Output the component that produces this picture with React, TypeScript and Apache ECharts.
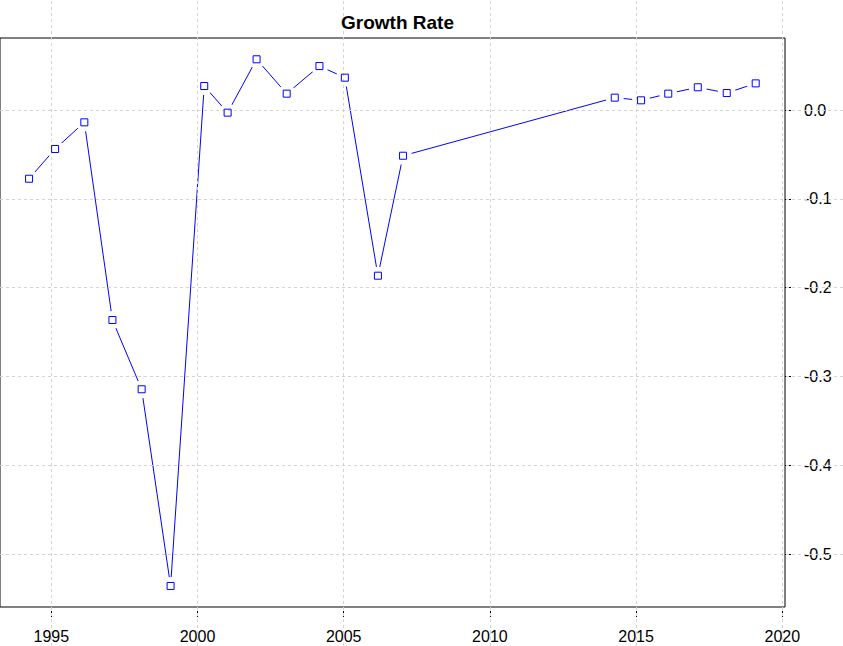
import { useEffect, useRef } from "react";
import * as echarts from "echarts";

// ─── Data ─────────────────────────────────────────────────────────
const YEARS = [
  1994.24, 1995.13, 1996.13, 1997.09, 1998.09, 1999.08, 2000.23, 2001.03, 2002.02, 2003.05,
  2004.17, 2005.04, 2006.17, 2007.03, 2014.27, 2015.17, 2016.1, 2017.11, 2018.1, 2019.09,
];
const GROWTH = [
  -0.0774, -0.0439, -0.0139, -0.2365, -0.3145, -0.536, 0.027, -0.003, 0.0571, 0.0184,
  0.0495, 0.0364, -0.1866, -0.0515, 0.0139, 0.0109, 0.0184, 0.0256, 0.0191, 0.03,
];
const X_TICKS = [1995, 2000, 2005, 2010, 2015, 2020];
const Y_TICKS = [0, -0.1, -0.2, -0.3, -0.4, -0.5];

// ─── Look ─────────────────────────────────────────────────────────
const FONT = '"Liberation Sans", Arial, sans-serif';
const BLUE = "#0000ff";
const GRID_GREY = "#d3d3d3";
const MASK = "#fefefe";
const W = 843;
const H = 646;
const BOX = { left: 0, top: 38, right: 785, bottom: 607 };

// pixel calibration: where 1995 and 0.0 sit, and the scale of each axis
const PX_1995 = 51.3;
const PX_PER_YEAR = 29.24;
const PY_ZERO = 110;
const PY_PER_UNIT = 888;
const yearAt = (px: number) => 1995 + (px - PX_1995) / PX_PER_YEAR;
const valueAt = (py: number) => (PY_ZERO - py) / PY_PER_UNIT;

const tickStyle = { color: "#000", width: 1, type: [2, 2] };
const labelStyle = { fontSize: 16, color: "#000", fontFamily: FONT };

export default function App() {
  const ref = useRef<HTMLDivElement>(null);

  useEffect(() => {
    if (!ref.current) return;
    const chart = echarts.init(ref.current, undefined, { renderer: "svg" });
    const points = YEARS.map((y, i) => [y, GROWTH[i]]);

    chart.setOption({
      animation: false,
      backgroundColor: "#fff",
      title: {
        text: "Growth Rate",
        left: (BOX.left + BOX.right) / 2,
        top: 8,
        textAlign: "center",
        textStyle: { fontSize: 19, fontWeight: "bold", color: "#000", fontFamily: FONT },
      },
      grid: [
        {
          left: BOX.left,
          top: BOX.top,
          width: BOX.right - BOX.left,
          height: BOX.bottom - BOX.top,
          show: true,
          borderColor: "#000",
          borderWidth: 1,
          backgroundColor: "transparent",
        },
        // whole page: the dotted grid runs past the box, as in the reference
        { left: 0, top: 0, width: W, height: H, show: false },
      ],
      xAxis: [
        {
          gridIndex: 0,
          type: "value",
          min: yearAt(BOX.left),
          max: yearAt(BOX.right),
          axisLine: { show: false, onZero: false },
          splitLine: { show: false },
          axisTick: { show: true, customValues: X_TICKS, length: 12, lineStyle: tickStyle },
          axisLabel: {
            ...labelStyle,
            customValues: X_TICKS,
            margin: 21,
            formatter: (v: number) => String(v),
          },
        },
        { gridIndex: 1, type: "value", min: yearAt(0), max: yearAt(W), show: false },
      ],
      yAxis: [
        {
          gridIndex: 0,
          type: "value",
          position: "right",
          min: valueAt(BOX.bottom),
          max: valueAt(BOX.top),
          axisLine: { show: false, onZero: false },
          splitLine: { show: false },
          axisTick: { show: true, customValues: Y_TICKS, length: 9, lineStyle: tickStyle },
          axisLabel: {
            ...labelStyle,
            customValues: Y_TICKS,
            margin: 19,
            formatter: (v: number) => v.toFixed(1),
          },
        },
        { gridIndex: 1, type: "value", min: valueAt(H), max: valueAt(0), show: false },
      ],
      series: [
        {
          type: "line",
          data: points,
          showSymbol: false,
          lineStyle: { color: BLUE, width: 1 },
        },
        {
          // pale disc that opens the gap round each point (R type = "b")
          type: "line",
          data: points,
          showSymbol: true,
          symbol: "circle",
          symbolSize: 18,
          lineStyle: { opacity: 0 },
          itemStyle: { color: MASK, borderWidth: 0, opacity: 1 },
        },
        {
          // carrier for the page-wide grid lines
          type: "line",
          xAxisIndex: 1,
          yAxisIndex: 1,
          data: points,
          showSymbol: false,
          lineStyle: { opacity: 0 },
          markLine: {
            silent: true,
            symbol: ["none", "none"],
            label: { show: false },
            lineStyle: { color: GRID_GREY, width: 1, type: [3, 3] },
            data: [
              ...X_TICKS.map((x) => ({ xAxis: x })),
              ...Y_TICKS.map((y) => ({ yAxis: y })),
            ],
          },
        },
        {
          type: "scatter",
          data: points,
          symbol: "rect",
          symbolSize: 7,
          itemStyle: { color: "transparent", borderColor: BLUE, borderWidth: 1, opacity: 1 },
          z: 6,
        },
      ],
    });

    return () => chart.dispose();
  }, []);

  return (
    <div
      ref={ref}
      style={{ position: "absolute", left: 0, top: 0, width: W, height: H, background: "#fff" }}
    />
  );
}
